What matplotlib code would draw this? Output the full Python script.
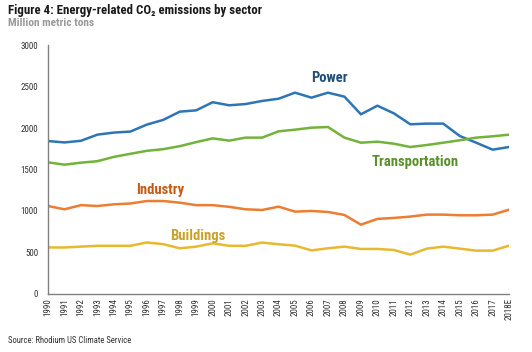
import matplotlib
matplotlib.use("Agg")
import matplotlib.pyplot as plt
from matplotlib import font_manager

names = {f.name for f in font_manager.fontManager.ttflist}
fam = 'Roboto Condensed' if 'Roboto Condensed' in names else 'DejaVu Sans'
plt.rcParams['font.family'] = [fam, 'DejaVu Sans']

years = list(range(1990, 2019))
year_labels = [str(y) for y in years[:-1]] + ["2018E"]

power = [1843, 1826, 1846, 1920, 1945, 1957, 2041, 2098, 2197, 2213, 2311, 2274, 2289, 2326,
         2353, 2426, 2366, 2426, 2378, 2165, 2269, 2177, 2045, 2053, 2053, 1904, 1823, 1739, 1771]
transport = [1586, 1558, 1582, 1600, 1652, 1689, 1725, 1745, 1781, 1830, 1875, 1848, 1884, 1884,
             1960, 1980, 2004, 2012, 1884, 1823, 1835, 1811, 1771, 1795, 1823, 1852, 1884, 1900, 1920]
industry = [1060, 1020, 1070, 1060, 1080, 1090, 1120, 1120, 1100, 1070, 1070, 1050, 1020, 1012,
            1052, 992, 1000, 988, 952, 835, 904, 916, 932, 956, 956, 948, 948, 956, 1016]
buildings = [560, 560, 570, 580, 580, 580, 620, 600, 550, 570, 610, 580, 580, 619,
             599, 582, 525, 550, 570, 542, 542, 530, 474, 546, 570, 546, 522, 522, 582]

fig = plt.figure(figsize=(5.32, 3.52), dpi=100)
ax = fig.add_axes([0.0902, 0.165, 0.8668, 0.707])

series = [
    (power, "#2e75b6", "Power", 2007.1, 2600, "#1f4e79"),
    (transport, "#72b33a", "Transportation", 2012.3, 1590, "#5a8f29"),
    (industry, "#ed7d31", "Industry", 1996.8, 1250, "#c55a11"),
    (buildings, "#e8b930", "Buildings", 1999.1, 700, "#c9a227"),
]
for vals, col, lab, lx, ly, tc in series:
    ax.plot(years, vals, color=col, lw=1.8, solid_joinstyle='round')
    ax.text(lx, ly, lab, color=tc, fontsize=10.5, fontweight='bold', ha='center', va='center')

ax.set_xlim(1990, 2018)
ax.set_ylim(0, 3000)
ax.set_yticks(range(0, 3001, 500))
ax.set_xticks(years)
ax.set_xticklabels(year_labels, rotation=90, fontsize=6.5, color="#333333")
ax.tick_params(axis='y', labelsize=6.5, colors="#333333", length=0, pad=7)
ax.tick_params(axis='x', length=0, pad=3)
for s in ['top', 'right']:
    ax.spines[s].set_visible(False)
for s in ['left', 'bottom']:
    ax.spines[s].set_color("#808080")
    ax.spines[s].set_linewidth(1.0)

fig.text(0.015, 0.97, "Figure 4: Energy-related CO\u2082 emissions by sector", fontsize=9.3,
         fontweight='bold', color="#1a1a1a", va='center', ha='left')
fig.text(0.015, 0.936, "Million metric tons", fontsize=8.2, fontweight='bold', color="#9a9a9a",
         va='center', ha='left')
fig.text(0.015, 0.034, "Source: Rhodium US Climate Service", fontsize=6.2, color="#333333",
         va='center', ha='left')

fig.savefig("out.png", dpi=100)
